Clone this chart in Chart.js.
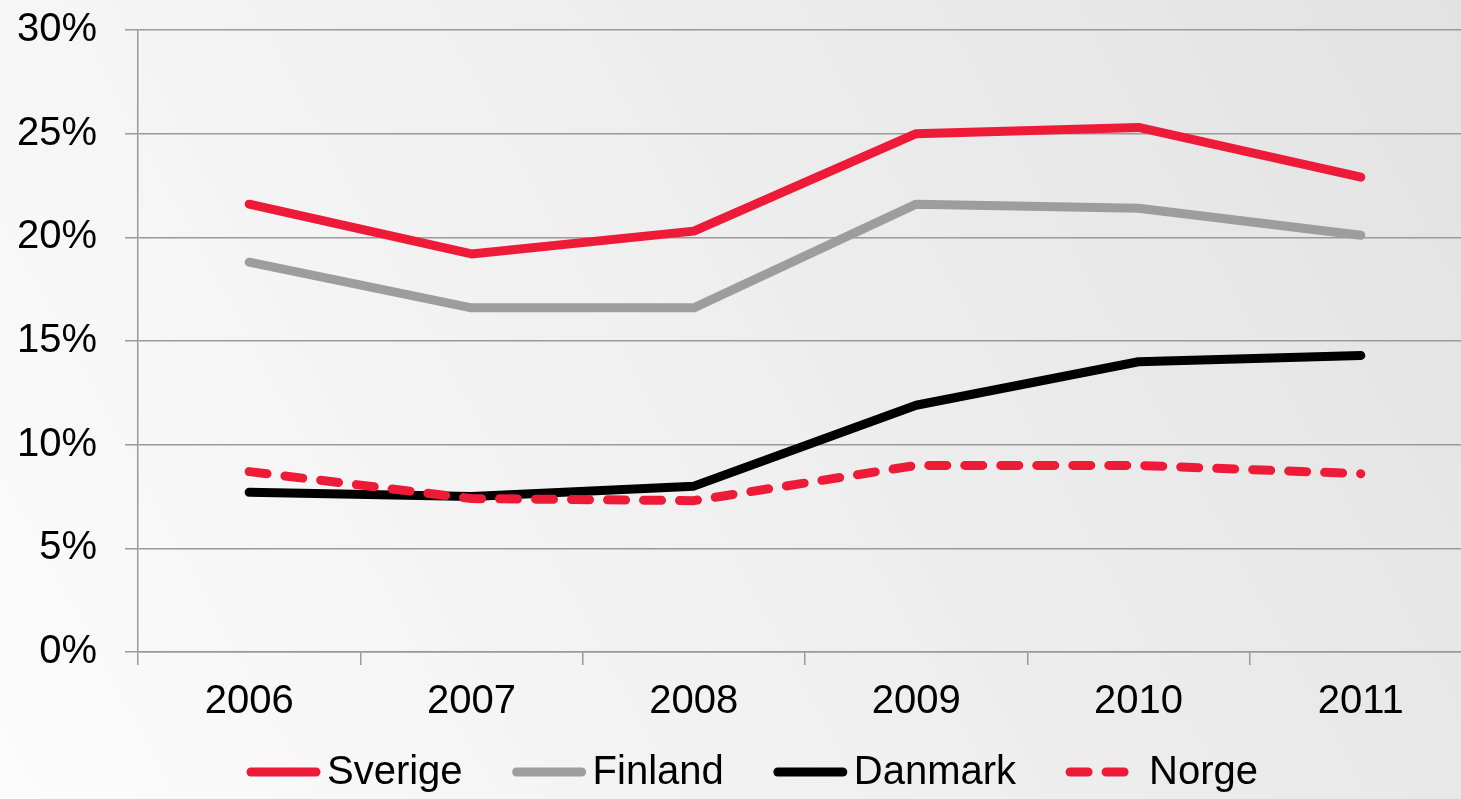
<!DOCTYPE html>
<html>
<head>
<meta charset="utf-8">
<title>Sverige, Finland, Danmark, Norge 2006-2011</title>
<script src="https://cdn.jsdelivr.net/npm/chart.js@4/dist/chart.umd.min.js"></script>
<style>
    html, body { margin: 0; padding: 0; overflow: hidden; background: #f0f0f0; }
    canvas { display: block; }
</style>
</head>
<body>
<canvas id="chart" width="1472" height="799"></canvas>
<script>
// values, in percent
const years = ['2006', '2007', '2008', '2009', '2010', '2011'];
const sverige = [21.6, 19.2, 20.3, 25.0, 25.3, 22.9];
const finland = [18.8, 16.6, 16.6, 21.6, 21.4, 20.1];
const danmark = [7.7, 7.5, 8.0, 11.9, 14.0, 14.3];
const norge = [8.7, 7.4, 7.3, 9.0, 9.0, 8.6];
const yTicks = [0, 5, 10, 15, 20, 25, 30];

const FONT = "'Liberation Sans', Arial, sans-serif";
const RED = '#ee1b38';
const GREY = '#9d9d9d';

document.addEventListener("DOMContentLoaded", () => {
    const ctx = document.getElementById('chart').getContext('2d');

    // soft grey gradient behind everything
    const background = {
        id: 'background',
        beforeDraw(chart) {
            const c = chart.ctx;
            const g = c.createLinearGradient(0, chart.height, chart.width, 0);
            g.addColorStop(0, '#fcfcfc');
            g.addColorStop(1, '#e2e2e2');
            c.save();
            c.fillStyle = g;
            c.fillRect(0, 0, chart.width, chart.height);
            c.restore();
        }
    };

    // legend drawn by hand so the line samples and spacing look like the original
    const lineLegend = {
        id: 'lineLegend',
        afterDraw(chart) {
            const c = chart.ctx;
            const sample = 73, gap = 7, spacing = 50;
            c.save();
            c.font = '40px ' + FONT;
            c.textBaseline = 'middle';
            const items = chart.data.datasets.map(ds => ({ ds, w: c.measureText(ds.label).width }));
            const total = items.reduce((s, it) => s + sample + gap + it.w, 0) + spacing * (items.length - 1);
            let x = 751 - total / 2;
            const y = 773;
            items.forEach(it => {
                c.strokeStyle = it.ds.borderColor;
                c.lineWidth = 9;
                c.lineCap = 'round';
                c.setLineDash(it.ds.borderDash || []);
                c.beginPath();
                c.moveTo(x + 4, y - 1);
                c.lineTo(x + (it.ds.borderDash ? 59 : sample - 4), y - 1);
                c.stroke();
                c.setLineDash([]);
                c.fillStyle = '#000';
                const tx = x + sample + gap + (it.ds.borderDash ? 3 : 0);
                c.fillText(it.ds.label, tx, y);
                x += sample + gap + it.w + spacing;
            });
            c.restore();
        }
    };

    const lineStyle = {
        borderWidth: 9,
        pointRadius: 0,
        pointHoverRadius: 0,
        tension: 0,
        borderCapStyle: 'round',
        borderJoinStyle: 'round',
        fill: false
    };

    new Chart(ctx, {
        type: 'line',
        data: {
            labels: years,
            datasets: [
                { label: 'Sverige', data: sverige, borderColor: RED, backgroundColor: RED, order: 1, ...lineStyle },
                { label: 'Finland', data: finland, borderColor: GREY, backgroundColor: GREY, order: 3, ...lineStyle },
                { label: 'Danmark', data: danmark, borderColor: '#000000', backgroundColor: '#000000', order: 2, ...lineStyle },
                { label: 'Norge', data: norge, borderColor: RED, backgroundColor: RED, borderDash: [18, 18], order: 0, ...lineStyle }
            ]
        },
        options: {
            responsive: false,
            animation: false,
            devicePixelRatio: 1,
            layout: { padding: { top: 30, bottom: 67, left: 0, right: 0 } },
            plugins: {
                legend: { display: false },
                tooltip: { enabled: false }
            },
            scales: {
                x: {
                    offset: true,
                    grid: {
                        offset: true,
                        drawOnChartArea: false,
                        drawTicks: true,
                        tickLength: 13,
                        color: '#999999',
                        lineWidth: 1.5
                    },
                    border: { display: true, color: '#999999', width: 1.5 },
                    ticks: {
                        color: '#000',
                        padding: 13,
                        font: { family: FONT, size: 40 },
                        maxRotation: 0
                    },
                    afterFit(scale) {
                        scale.height = 80;
                        scale.paddingLeft = 0;
                        scale.paddingRight = 0;
                    }
                },
                y: {
                    min: 0,
                    max: 30,
                    afterBuildTicks(scale) { scale.ticks = yTicks.map(v => ({ value: v })); },
                    grid: {
                        color: '#9a9a9a',
                        lineWidth: 1.5,
                        tickLength: 13
                    },
                    border: { display: true, color: '#999999', width: 1.5 },
                    ticks: {
                        color: '#000',
                        padding: 28,
                        font: { family: FONT, size: 40 },
                        callback: v => v + '%'
                    },
                    afterFit(scale) {
                        scale.width = 138;
                        scale.paddingTop = 0;
                        scale.paddingBottom = 0;
                    }
                }
            }
        },
        plugins: [background, lineLegend]
    });
});
</script>
</body>
</html>
